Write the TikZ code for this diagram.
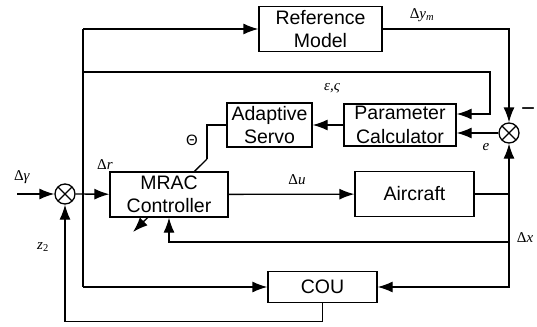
\documentclass[tikz,border=0pt]{standalone}
\usepackage{fontspec}
\setmainfont{Liberation Sans}
\newfontfamily\labelfont{Liberation Serif}
\usetikzlibrary{arrows.meta}

\begin{document}
\begin{tikzpicture}[x=1pt,y=-1pt,line width=1.3pt,
  >={Latex[length=15pt,width=11pt]},
  block/.style={draw,fill=white,align=center,inner sep=0pt,
    font=\fontsize{19.5}{23.5}\selectfont},
  sum/.style={circle,draw,fill=white,minimum size=20pt,inner sep=0pt,
    path picture={\draw (path picture bounding box.north west) -- (path picture bounding box.south east)
      (path picture bounding box.north east) -- (path picture bounding box.south west);}},
  lbl/.style={font=\labelfont\fontsize{15}{17}\selectfont,inner sep=1pt}]
\useasboundingbox (0,0) rectangle (537,326);

\node[block,minimum width=123pt,minimum height=45pt] (ref) at (320.5,29) {Reference\\Model};
\node[block,minimum width=85pt,minimum height=44pt] (servo) at (269.5,125) {Adaptive\\Servo};
\node[block,minimum width=112pt,minimum height=42pt] (param) at (400,125) {Parameter\\Calculator};
\node[block,minimum width=119pt,minimum height=45pt] (air) at (414.5,194) {Aircraft};
\node[block,minimum width=109pt,minimum height=31pt] (cou) at (322.5,287) {COU};
\node[sum] (sumL) at (65,194) {};
\node[sum] (sumR) at (509,133) {};

\coordinate (in) at (17,194);
\coordinate (tl) at (83,29);
\coordinate (ml) at (83,72);
\coordinate (bl) at (83,287);
\coordinate (pc) at (490,114);
\coordinate (xj) at (509,194);
\coordinate (fb) at (509,242);
\coordinate (th) at (207,159);
\coordinate (tip) at (133,232);

% adjustment arrow runs under the controller box
\draw (servo.west) -| (th);
\draw[->] (th) -- (tip);
\node[block,minimum width=118pt,minimum height=45pt] (mrac) at (169,194.5) {MRAC\\Controller};

\draw[->] (in) -- (sumL);
\draw[->] (sumL) -- (mrac);
\draw[->] (mrac) -- (air);
\draw[->] (air.east) -| (sumR);
\draw[->] (ref.east) -| (sumR);
\draw[->] (sumR.west) -- (sumR.west -| param.east);
\draw[->] (param) -- (servo);
\draw[->] (tl) -- (ref);
\draw (tl) -- (bl);
\draw[->] (bl) -- (cou);
\draw[->] (ml) -| (pc) -- (pc -| param.east);
\draw[->] (cou.south) -- ++(0,18) -| (sumL);
\draw[->] (xj) |- (cou.east);
\draw[->] (fb) -| (mrac.south);

\node[lbl] (dym) at (422,15) {Δ\textit{y}\textsubscript{\textit{m}}};
\node[lbl] (eps) at (332,88) {\textit{ε,ς}};
\node[lbl] (e) at (486,147) {\textit{e}};
\node[lbl,font=\fontsize{24}{24}\selectfont] (minus) at (528,112) {−};
\node[lbl,font=\fontsize{15}{17}\selectfont] (theta) at (192,140) {Θ};
\node[lbl] (dr) at (105,165) {Δ\textit{r}};
\node[lbl] (dg) at (22,177) {Δ\textit{γ}};
\node[lbl] (z2) at (43,247) {\textit{z}\textsubscript{2}};
\node[lbl] (du) at (297,180) {Δ\textit{u}};
\node[lbl] (dx) at (525,238) {Δ\textit{x}};
\end{tikzpicture}
\end{document}
